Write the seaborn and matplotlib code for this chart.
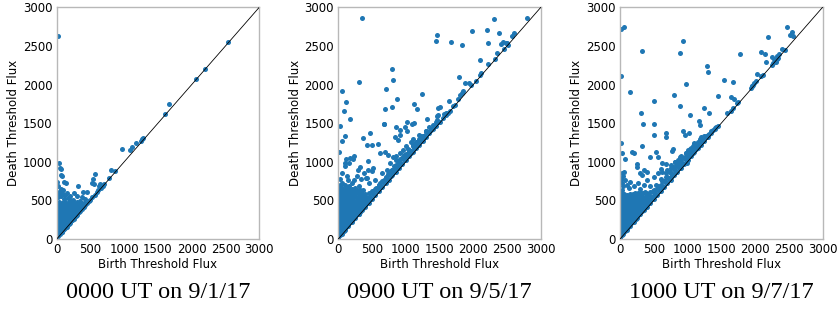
import pandas as pd
import seaborn as sns
import matplotlib.pyplot as plt

sns.set_theme(style="whitegrid")
plt.rcParams['font.family'] = ['DejaVu Sans']

# (birth, death) pairs
sep01_outliers = [
    (15, 2630), (2540, 2555), (2190, 2200), (2060, 2068), (1660, 1745), (1610, 1615),
    (1285, 1310), (1270, 1290), (1250, 1265), (1180, 1245), (1120, 1185), (1090, 1150),
    (960, 1165), (870, 880), (800, 893), (770, 795), (570, 840), (535, 775), (520, 720),
    (555, 710), (640, 710), (630, 680), (320, 686), (445, 613), (395, 613), (40, 980),
    (49, 924), (64, 902), (59, 829), (84, 816), (5, 734), (109, 734), (138, 729),
    (49, 626), (99, 634), (74, 591), (124, 570),
]
sep01_cluster = [
    (10, 470), (40, 475), (80, 465), (120, 478), (170, 470), (210, 480), (250, 472), (300, 482), (350, 495),
    (5, 420), (45, 425), (90, 415), (135, 428), (180, 420), (225, 418), (270, 430), (320, 425), (380, 432),
    (20, 370), (60, 375), (100, 365), (150, 372), (200, 368), (240, 378), (290, 370), (340, 378),
    (5, 320), (40, 325), (85, 315), (125, 322), (170, 318), (215, 326), (260, 320), (300, 332),
    (20, 270), (60, 275), (105, 265), (150, 272), (195, 268), (240, 280),
    (5, 220), (45, 225), (90, 215), (130, 222), (180, 228),
    (20, 170), (65, 175), (110, 165), (150, 178),
    (5, 120), (45, 125), (85, 118), (110, 130),
    (20, 70), (55, 75), (5, 35), (25, 40),
    (50, 62), (100, 112), (150, 160), (200, 212), (250, 262), (300, 312), (350, 360),
    (400, 412), (450, 460), (500, 510),
    (20, 540), (60, 560), (110, 520), (170, 530), (200, 510), (240, 505), (30, 600),
    (15, 680), (70, 650), (150, 600), (200, 560), (250, 590), (300, 560), (380, 540),
    (420, 520), (600, 615), (650, 662), (680, 690), (560, 575), (700, 708), (610, 640),
]
sep01_fill = [
    (25, 445), (65, 450), (105, 440), (150, 448), (195, 445), (240, 450), (285, 455), (330, 450),
    (370, 455), (410, 460), (5, 395), (40, 398), (80, 390), (120, 400), (160, 395), (205, 392),
    (250, 400), (300, 398), (350, 402), (25, 345), (70, 348), (110, 340), (155, 345), (195, 342),
    (235, 350), (275, 345), (320, 350), (5, 295), (45, 298), (85, 290), (130, 298), (170, 292),
    (210, 300), (250, 298), (280, 302), (25, 245), (70, 248), (110, 240), (155, 245), (200, 250),
    (230, 252), (5, 195), (45, 198), (85, 190), (130, 198), (170, 200), (25, 145), (70, 148),
    (110, 140), (130, 150), (5, 95), (45, 98), (75, 92), (75, 95), (125, 145), (175, 195),
    (225, 245), (275, 295), (325, 345), (375, 395), (425, 445), (475, 490), (520, 540),
]

sep05_outliers = [
    (355, 2866), (2790, 2866), (2305, 2848), (1455, 2646), (1440, 2560), (1975, 2693),
    (2205, 2706), (2385, 2667), (1672, 2546), (1835, 2512), (2220, 2533), (2600, 2667),
    (2575, 2633), (2403, 2529), (2437, 2555), (2477, 2542), (2511, 2516), (2500, 2533),
    (2457, 2465), (2353, 2413), (2324, 2335), (2102, 2313), (2225, 2270), (2107, 2145),
    (2092, 2119), (2033, 2050), (1880, 2016), (1929, 2016), (1968, 1994), (1781, 2093),
    (1845, 1920), (1835, 1890), (1810, 1864), (1776, 1808), (1727, 1739), (1697, 1722),
    (1633, 1782), (1648, 1662), (1623, 1636), (1598, 1627), (1564, 1618), (1510, 1713),
    (1480, 1700), (1480, 1601), (1460, 1593), (1465, 1541), (1450, 1519), (1317, 1554),
    (1243, 1882), (1164, 1683), (1120, 1748), (1016, 1511), (1115, 1506), (789, 2197),
    (809, 2059), (700, 1942), (311, 2033), (59, 1916), (113, 1774), (79, 1653),
    (178, 1554), (691, 1679), (789, 1705), (863, 1817), (676, 1489),
    (30, 1467), (94, 1334), (49, 1269), (365, 1303), (681, 1485), (474, 1368),
    (424, 1217), (503, 1217), (587, 1226), (858, 1454), (907, 1411), (982, 1454),
    (1095, 1489), (834, 1325), (888, 1282), (907, 1346), (686, 1131), (740, 1088),
    (612, 1109), (809, 1066), (858, 1023), (907, 1109), (957, 1152), (168, 1053),
    (217, 1031), (118, 1031), (104, 980), (158, 980), (99, 950), (237, 1075),
    (434, 1006), (444, 893), (513, 915), (503, 876), (316, 937), (296, 893),
    (385, 850), (414, 785), (15, 1125),
]
sep05_cluster = [
    (5, 650), (50, 660), (100, 645), (150, 655), (200, 650), (250, 665),
    (25, 600), (75, 605), (125, 595), (175, 610), (225, 600), (275, 605), (330, 612),
    (5, 550), (50, 555), (100, 545), (150, 552), (200, 548), (250, 556), (300, 550), (350, 560), (400, 555),
    (25, 500), (75, 505), (125, 495), (175, 502), (225, 498), (275, 506), (325, 500), (375, 505), (420, 500),
    (5, 450), (50, 455), (100, 445), (150, 452), (200, 448), (250, 455), (300, 450), (350, 455), (390, 450),
    (25, 400), (75, 405), (125, 395), (175, 402), (225, 398), (275, 405), (330, 400), (360, 402),
    (5, 350), (50, 355), (100, 345), (150, 352), (200, 348), (250, 355), (300, 350), (320, 355),
    (25, 300), (75, 305), (125, 295), (175, 302), (225, 298), (260, 305),
    (5, 250), (50, 255), (100, 245), (150, 252), (200, 248), (220, 255),
    (25, 200), (75, 205), (125, 195), (160, 202),
    (5, 150), (50, 155), (100, 145), (120, 152),
    (25, 100), (60, 105), (80, 100), (5, 50), (30, 55),
    (0, 15), (50, 68), (100, 118), (150, 165), (200, 222), (250, 268), (300, 318), (350, 372),
    (400, 418), (450, 470), (500, 522), (550, 568), (600, 622), (650, 670), (700, 722), (750, 768),
    (800, 825), (850, 870), (900, 922), (950, 972), (1000, 1025), (1050, 1070), (1100, 1122),
    (1150, 1172), (1200, 1220), (1250, 1270), (1300, 1318), (1350, 1368), (1400, 1420),
    (1450, 1465), (1500, 1515), (1550, 1565), (1600, 1612),
    (420, 500), (470, 545), (520, 590), (570, 640), (620, 690), (670, 745), (720, 790), (770, 845),
    (820, 890), (870, 945), (920, 990), (970, 1050), (1020, 1095), (1070, 1140), (1120, 1190),
    (1170, 1240), (1220, 1285), (1270, 1330), (1320, 1380), (1370, 1430), (1420, 1465),
    (500, 620), (560, 660), (620, 730), (680, 770), (740, 840), (800, 900), (860, 960),
    (920, 1040), (980, 1090), (1040, 1160), (1100, 1220), (1160, 1260), (1220, 1330), (1300, 1400),
    (240, 760), (280, 820), (200, 730), (330, 780), (420, 790), (460, 720), (540, 760), (600, 700),
    (650, 860), (700, 800), (720, 900), (780, 880), (820, 950), (900, 980), (950, 1050), (1000, 1200),
    (1050, 1150), (1080, 1250), (1150, 1250), (1200, 1350), (1250, 1300), (1300, 1400), (1350, 1450),
    (1400, 1480), (1100, 1300), (1020, 1400), (860, 1080), (760, 990),
    (20, 780), (60, 720), (100, 700), (150, 760), (130, 820), (60, 860), (20, 700), (160, 690),
    (300, 680), (360, 640), (450, 600),
]
sep05_fill = [
    (25, 625), (75, 628), (125, 620), (175, 630), (225, 625), (275, 630), (320, 635),
    (5, 575), (50, 578), (100, 570), (150, 580), (200, 575), (250, 578), (300, 580), (350, 585), (390, 580),
    (25, 525), (75, 528), (125, 520), (175, 530), (225, 525), (275, 528), (325, 525), (375, 530),
    (420, 528), (460, 530), (5, 475), (50, 478), (100, 470), (150, 480), (200, 475), (250, 478),
    (300, 475), (350, 480), (400, 478), (440, 482), (25, 425), (75, 428), (125, 420), (175, 430),
    (225, 425), (275, 428), (325, 425), (375, 430), (400, 430), (5, 375), (50, 378), (100, 370),
    (150, 380), (200, 375), (250, 378), (300, 375), (340, 380), (25, 325), (75, 328), (125, 320),
    (175, 330), (225, 325), (275, 328), (300, 330), (5, 275), (50, 278), (100, 270), (150, 280),
    (200, 275), (240, 280), (25, 225), (75, 228), (125, 220), (175, 230), (200, 232), (5, 175),
    (50, 178), (100, 170), (150, 180), (25, 125), (75, 128), (100, 130), (5, 75), (40, 80), (60, 78),
    (25, 68), (75, 122), (125, 170), (175, 218), (225, 272), (275, 320), (325, 368), (375, 422),
    (425, 470), (475, 518), (525, 572), (575, 620), (625, 668), (675, 722), (725, 770), (775, 818),
    (825, 872), (875, 920), (925, 968), (975, 1022), (1025, 1070), (1075, 1118), (1125, 1172),
    (1175, 1220), (1225, 1268), (1275, 1318), (1325, 1368), (1375, 1418), (1425, 1465), (1475, 1512),
    (450, 545), (500, 598), (550, 645), (600, 695), (650, 748), (700, 795), (750, 845), (800, 898),
    (850, 945), (900, 995), (950, 1048), (1000, 1095), (1050, 1145), (1100, 1198), (1150, 1245),
    (1200, 1295), (1250, 1340), (1300, 1390),
]

sep07_outliers = [
    (10, 2719), (64, 2749), (331, 2438), (927, 2559), (883, 2413), (1293, 2240), (1297, 2167),
    (977, 2007), (153, 1903), (15, 2115), (804, 1864), (508, 1791), (893, 1718), (1243, 1700),
    (1031, 1601), (311, 1636), (340, 1493), (503, 1489), (1322, 1631), (1455, 1856), (1544, 2063),
    (1672, 2037), (1638, 1843), (1692, 1813), (1776, 2395), (2472, 2749), (2511, 2646),
    (2551, 2676), (2565, 2633), (2190, 2620), (2092, 2421), (2151, 2400), (2156, 2287),
    (2245, 2361), (2279, 2331), (2319, 2369), (2353, 2391), (2343, 2339), (2304, 2296),
    (2264, 2274), (2250, 2253), (2324, 2326), (2393, 2456), (2437, 2447), (2033, 2136),
    (2087, 2110), (2121, 2123), (2018, 2041), (1988, 2016), (1949, 1981), (1939, 1951),
    (1960, 1975), (1970, 1990), (1751, 1778), (1727, 1757), (1677, 1692), (1638, 1662),
    (1589, 1627), (1174, 1532), (1179, 1476),
    (498, 1347), (676, 1368), (686, 1325), (331, 1208), (937, 1398), (957, 1346), (1016, 1368),
    (10, 1247), (173, 1122), (207, 1118), (25, 1118), (74, 1031), (252, 975), (247, 937),
    (291, 859), (444, 1062), (538, 1122), (567, 1057), (617, 980), (676, 967), (602, 902),
    (765, 1139), (789, 1161), (863, 1023), (888, 1062), (957, 1066), (997, 980), (355, 893),
    (400, 872), (331, 829),
]
sep07_cluster = [
    (5, 550), (40, 560), (80, 545), (120, 555), (160, 565), (200, 560), (240, 570), (290, 575),
    (340, 590), (390, 600), (440, 610), (490, 620),
    (20, 500), (60, 505), (100, 495), (140, 510), (180, 500), (220, 505), (260, 515), (300, 505),
    (350, 520), (400, 525), (450, 540),
    (5, 450), (50, 455), (100, 445), (150, 452), (200, 448), (250, 455), (300, 450), (350, 460), (400, 470),
    (25, 400), (75, 405), (125, 395), (175, 402), (225, 398), (275, 405), (330, 400), (370, 410),
    (5, 350), (50, 355), (100, 345), (150, 352), (200, 348), (250, 355), (300, 350), (330, 360),
    (25, 300), (75, 305), (125, 295), (175, 302), (225, 298), (270, 305),
    (5, 250), (50, 255), (100, 245), (150, 252), (200, 248), (230, 255),
    (25, 200), (75, 205), (125, 195), (170, 202),
    (5, 150), (50, 155), (100, 145), (120, 152),
    (25, 100), (60, 105), (80, 100), (5, 50), (30, 55),
    (0, 15), (50, 68), (100, 118), (150, 165), (200, 222), (250, 268), (300, 318), (350, 372),
    (400, 418), (450, 470), (500, 522), (550, 568), (600, 622), (650, 670), (700, 722), (750, 768),
    (800, 825), (850, 870), (900, 922), (950, 972), (1000, 1025), (1050, 1070), (1100, 1122),
    (1150, 1172), (1200, 1220), (1250, 1270), (1300, 1318), (1350, 1368), (1400, 1420), (1450, 1465),
    (370, 440), (420, 495), (470, 545), (520, 590), (570, 640), (620, 690), (670, 745), (720, 790),
    (770, 845), (820, 890), (870, 945), (920, 990), (970, 1050), (1020, 1095), (1070, 1140),
    (1120, 1190), (1170, 1240), (1220, 1285), (1270, 1330),
    (500, 640), (560, 690), (620, 750), (680, 800), (740, 870), (800, 930), (860, 990), (920, 1050),
    (980, 1110), (1040, 1170), (1100, 1230),
    (540, 700), (600, 780), (680, 860), (750, 920), (820, 1000), (900, 1080),
    (35, 850), (45, 820), (60, 870), (20, 780), (30, 720), (50, 690), (80, 760), (100, 700),
    (130, 660), (150, 740), (200, 680), (260, 720), (300, 650), (350, 700), (400, 760), (450, 680),
    (500, 800), (560, 850), (620, 870), (700, 900), (760, 960), (820, 1000), (900, 1060),
    (980, 1120), (1050, 1180), (1100, 1240), (1150, 1260), (1200, 1320), (1250, 1330),
    (1300, 1350), (1350, 1400), (1400, 1440), (1180, 1300), (1080, 1200), (1000, 1150),
    (30, 640), (15, 600),
]
sep07_fill = [
    (25, 575), (65, 580), (105, 570), (145, 585), (185, 580), (225, 590), (265, 595), (315, 600),
    (365, 610), (5, 525), (40, 530), (80, 520), (120, 532), (160, 525), (200, 530), (240, 535),
    (280, 530), (325, 540), (375, 550), (425, 565), (25, 475), (75, 478), (125, 470), (175, 480),
    (225, 475), (275, 480), (325, 478), (375, 490), (425, 500), (5, 425), (50, 428), (100, 420),
    (150, 430), (200, 425), (250, 428), (300, 425), (350, 430), (5, 375), (50, 378), (100, 370),
    (150, 380), (200, 375), (250, 378), (300, 375), (25, 325), (75, 328), (125, 320), (175, 330),
    (225, 325), (275, 328), (5, 275), (50, 278), (100, 270), (150, 280), (200, 275), (25, 225),
    (75, 228), (125, 220), (175, 230), (5, 175), (50, 178), (100, 170), (25, 125), (75, 128),
    (5, 75), (40, 80),
    (25, 70), (75, 122), (125, 170), (175, 220), (225, 272), (275, 320), (325, 370), (375, 420),
    (425, 472), (475, 520), (525, 572), (575, 622), (625, 672), (675, 720), (725, 772), (775, 822),
    (825, 872), (875, 920), (925, 972), (975, 1022), (1025, 1070), (1075, 1120), (1125, 1170),
    (1175, 1220), (1225, 1268), (1275, 1318), (1325, 1365), (1375, 1412), (1425, 1455),
    (450, 550), (500, 600), (550, 650), (600, 702), (650, 755), (700, 800), (750, 850), (800, 902),
    (850, 955), (900, 1000), (950, 1050), (1000, 1102), (1050, 1150), (1100, 1195), (1150, 1240),
    (1200, 1285),
]

captions = ['0000 UT on 9/1/17', '0900 UT on 9/5/17', '1000 UT on 9/7/17']
panels = [sep01_outliers + sep01_cluster + sep01_fill,
          sep05_outliers + sep05_cluster + sep05_fill,
          sep07_outliers + sep07_cluster + sep07_fill]
limits = [0, 3000]
ticks = [0, 500, 1000, 1500, 2000, 2500, 3000]
lefts = [0.0676, 0.4032, 0.739]

fig = plt.figure(figsize=(8.39, 3.09), dpi=100)
for left, pts, cap in zip(lefts, panels, captions):
    ax = fig.add_axes([left, 0.2265, 0.2414, 0.7498])
    df = pd.DataFrame(pts, columns=['birth', 'death'])
    sns.scatterplot(data=df, x='birth', y='death', ax=ax,
                    color='#1f77b4', s=13, linewidth=0, zorder=2)
    ax.plot(limits, limits, color='black', lw=0.6, zorder=3)
    ax.set_xlim(limits)
    ax.set_ylim(limits)
    ax.set_xticks(ticks)
    ax.set_yticks(ticks)
    ax.grid(False)
    for sp in ax.spines.values():
        sp.set_color('#b8b8b8')
        sp.set_linewidth(1.0)
    ax.tick_params(length=2.5, width=0.8, color='#b8b8b8', pad=0.5,
                   labelsize=8.5, labelcolor='black')
    ax.set_xlabel('Birth Threshold Flux', fontsize=8.5, color='black', labelpad=1)
    ax.set_ylabel('Death Threshold Flux', fontsize=8.5, color='black', labelpad=2)
    fig.text(left + 0.1207, 0.055, cap, ha='center', va='center',
             family='Liberation Serif', fontsize=17.5, color='black')

fig.savefig('out.png', dpi=100)
